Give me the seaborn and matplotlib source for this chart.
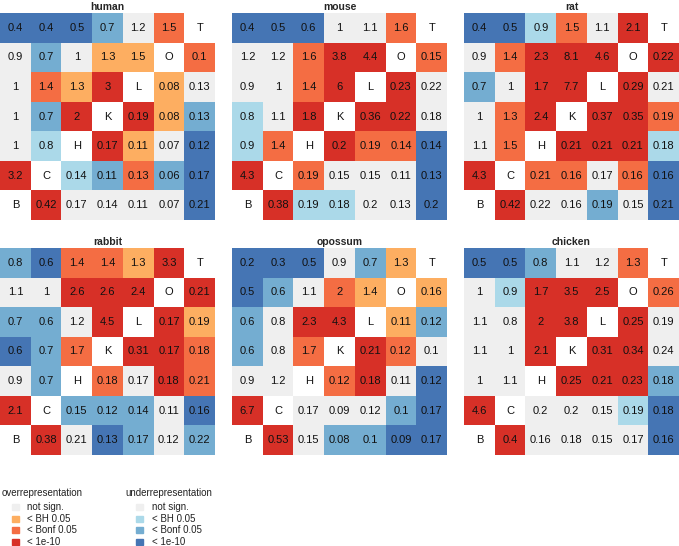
import numpy as np
import matplotlib
matplotlib.use('Agg')
import matplotlib.pyplot as plt
import seaborn as sns
from matplotlib.colors import ListedColormap
from matplotlib.patches import Rectangle

# =====================
# DATA
# =====================
# diagonal labels, top row to bottom row (label of row r sits in column 6-r)
diag_labels = ['T', 'O', 'L', 'K', 'H', 'C', 'B']
species = ['human', 'mouse', 'rat', 'rabbit', 'opossum', 'chicken']

# values shown in cells (None = diagonal)
human_val = [
    ['0.4', '0.4', '0.5', '0.7', '1.2', '1.5', None],
    ['0.9', '0.7', '1', '1.3', '1.5', None, '0.1'],
    ['1', '1.4', '1.3', '3', None, '0.08', '0.13'],
    ['1', '0.7', '2', None, '0.19', '0.08', '0.13'],
    ['1', '0.8', None, '0.17', '0.11', '0.07', '0.12'],
    ['3.2', None, '0.14', '0.11', '0.13', '0.06', '0.17'],
    [None, '0.42', '0.17', '0.14', '0.11', '0.07', '0.21'],
]
mouse_val = [
    ['0.4', '0.5', '0.6', '1', '1.1', '1.6', None],
    ['1.2', '1.2', '1.6', '3.8', '4.4', None, '0.15'],
    ['0.9', '1', '1.4', '6', None, '0.23', '0.22'],
    ['0.8', '1.1', '1.8', None, '0.36', '0.22', '0.18'],
    ['0.9', '1.4', None, '0.2', '0.19', '0.14', '0.14'],
    ['4.3', None, '0.19', '0.15', '0.15', '0.11', '0.13'],
    [None, '0.38', '0.19', '0.18', '0.2', '0.13', '0.2'],
]
rat_val = [
    ['0.4', '0.5', '0.9', '1.5', '1.1', '2.1', None],
    ['0.9', '1.4', '2.3', '8.1', '4.6', None, '0.22'],
    ['0.7', '1', '1.7', '7.7', None, '0.29', '0.21'],
    ['1', '1.3', '2.4', None, '0.37', '0.35', '0.19'],
    ['1.1', '1.5', None, '0.21', '0.21', '0.21', '0.18'],
    ['4.3', None, '0.21', '0.16', '0.17', '0.16', '0.16'],
    [None, '0.42', '0.22', '0.16', '0.19', '0.15', '0.21'],
]
rabbit_val = [
    ['0.8', '0.6', '1.4', '1.4', '1.3', '3.3', None],
    ['1.1', '1', '2.6', '2.6', '2.4', None, '0.21'],
    ['0.7', '0.6', '1.2', '4.5', None, '0.17', '0.19'],
    ['0.6', '0.7', '1.7', None, '0.31', '0.17', '0.18'],
    ['0.9', '0.7', None, '0.18', '0.17', '0.18', '0.21'],
    ['2.1', None, '0.15', '0.12', '0.14', '0.11', '0.16'],
    [None, '0.38', '0.21', '0.13', '0.17', '0.12', '0.22'],
]
opossum_val = [
    ['0.2', '0.3', '0.5', '0.9', '0.7', '1.3', None],
    ['0.5', '0.6', '1.1', '2', '1.4', None, '0.16'],
    ['0.6', '0.8', '2.3', '4.3', None, '0.11', '0.12'],
    ['0.6', '0.8', '1.7', None, '0.21', '0.12', '0.1'],
    ['0.9', '1.2', None, '0.12', '0.18', '0.11', '0.12'],
    ['6.7', None, '0.17', '0.09', '0.12', '0.1', '0.17'],
    [None, '0.53', '0.15', '0.08', '0.1', '0.09', '0.17'],
]
chicken_val = [
    ['0.5', '0.5', '0.8', '1.1', '1.2', '1.3', None],
    ['1', '0.9', '1.7', '3.5', '2.5', None, '0.26'],
    ['1.1', '0.8', '2', '3.8', None, '0.25', '0.19'],
    ['1.1', '1', '2.1', None, '0.31', '0.34', '0.24'],
    ['1', '1.1', None, '0.25', '0.21', '0.23', '0.18'],
    ['4.6', None, '0.2', '0.2', '0.15', '0.19', '0.18'],
    [None, '0.4', '0.16', '0.18', '0.15', '0.17', '0.16'],
]

# significance level: +1/+2/+3 over (BH, Bonf, 1e-10), -1/-2/-3 under, 0 not sign.
human_sig = [
    [-3, -3, -3, -2, 0, 2, None],
    [0, -2, 0, 1, 1, None, 2],
    [0, 2, 1, 3, None, 1, 0],
    [0, -2, 3, None, 3, 1, -2],
    [0, -1, None, 3, 1, 0, -3],
    [3, None, -1, -2, 2, -2, -3],
    [None, 3, 0, 0, 0, 0, -3],
]
mouse_sig = [
    [-3, -3, -3, 0, 0, 2, None],
    [0, 0, 2, 3, 3, None, 2],
    [0, 0, 2, 3, None, 3, 0],
    [-1, 0, 3, None, 3, 3, 0],
    [-1, 2, None, 3, 2, 2, -3],
    [3, None, 2, 0, 0, 0, -3],
    [None, 3, -1, -1, 0, 0, -3],
]
rat_sig = [
    [-3, -3, -1, 2, 0, 3, None],
    [0, 2, 3, 3, 3, None, 3],
    [-2, 0, 3, 3, None, 3, 0],
    [0, 2, 3, None, 3, 3, 2],
    [0, 2, None, 3, 3, 3, -1],
    [3, None, 2, 2, 0, 2, -3],
    [None, 3, 0, 0, -2, 0, -3],
]
rabbit_sig = [
    [-2, -3, 2, 2, 1, 3, None],
    [0, 0, 3, 3, 3, None, 3],
    [-2, -2, 0, 3, None, 3, 1],
    [-3, -2, 2, None, 3, 3, 2],
    [0, -2, None, 2, 0, 3, 2],
    [3, None, -2, -2, -2, 0, -3],
    [None, 3, 0, -3, -2, 0, -2],
]
opossum_sig = [
    [-3, -3, -3, 0, -2, 1, None],
    [-3, -2, 0, 2, 1, None, 1],
    [-2, 0, 3, 3, None, 1, -2],
    [-2, 0, 2, None, 3, 2, 0],
    [0, 0, None, 2, 3, 0, -3],
    [3, None, 0, 0, 0, -2, -3],
    [None, 3, 0, -2, -2, -3, -3],
]
chicken_sig = [
    [-3, -3, -2, 0, 0, 2, None],
    [0, -1, 3, 3, 3, None, 2],
    [0, 0, 3, 3, None, 3, 0],
    [0, 0, 3, None, 3, 3, 0],
    [0, 0, None, 3, 3, 3, -2],
    [3, None, 0, 0, 0, -1, -3],
    [None, 3, 0, 0, 0, 0, -3],
]

all_val = [human_val, mouse_val, rat_val, rabbit_val, opossum_val, chicken_val]
all_sig = [human_sig, mouse_sig, rat_sig, rabbit_sig, opossum_sig, chicken_sig]

leg_labels = ['not sign.', '< BH 0.05', '< Bonf 0.05', '< 1e-10']

# =====================
# COLOURS
# =====================
grey = '#EFEFEF'
over_cols = ['#FDAE61', '#F46D43', '#D73027']
under_cols = ['#ABD9E9', '#74ADD1', '#4575B4']
# levels -3 .. 3, then 4 = diagonal (white)
cmap = ListedColormap(under_cols[::-1] + [grey] + over_cols + ['white'])

sns.set_theme(style='white')
plt.rcParams['font.family'] = ['Liberation Sans', 'DejaVu Sans']

fig = plt.figure(figsize=(6.79, 5.46), dpi=100)

W, H = 679, 546
lefts = [0, 232, 464]
tops = [13, 248]
pw, ph = 215, 207

for i, name in enumerate(species):
    r, c = divmod(i, 3)
    ax = fig.add_axes([lefts[c] / W, 1 - (tops[r] + ph) / H, pw / W, ph / H])
    lev = np.zeros((7, 7))
    txt = np.empty((7, 7), dtype=object)
    for a in range(7):
        for b in range(7):
            if all_sig[i][a][b] is None:
                lev[a, b] = 4
                txt[a, b] = diag_labels[a]
            else:
                lev[a, b] = all_sig[i][a][b]
                txt[a, b] = all_val[i][a][b]
    sns.heatmap(lev, ax=ax, cmap=cmap, vmin=-3.5, vmax=4.5, annot=txt, fmt='',
                cbar=False, xticklabels=False, yticklabels=False,
                annot_kws={'fontsize': 8, 'color': '#111111'})
    ax.set_title(name, fontsize=7.5, fontweight='bold', pad=2.5)

# =====================
# LEGEND (drawn by hand, pixel positions)
# =====================
def draw_legend(x_title, x_box, x_text, title, cols):
    fig.text(x_title / W, 1 - 493 / H, title, fontsize=7, va='center', ha='left',
             color='#222222')
    for k, (lab, col) in enumerate(zip(leg_labels, cols)):
        yc = 507 + k * 11.7
        fig.patches.append(Rectangle((x_box / W, 1 - (yc + 3) / H), 7 / W, 6 / H,
                                     transform=fig.transFigure, color=col,
                                     figure=fig))
        fig.text(x_text / W, 1 - yc / H, lab, fontsize=7, va='center', ha='left',
                 color='#222222')

draw_legend(2, 12, 27, 'overrepresentation', [grey] + over_cols)
draw_legend(125, 136, 152, 'underrepresentation', [grey] + under_cols)

fig.savefig('out.png', dpi=100)
